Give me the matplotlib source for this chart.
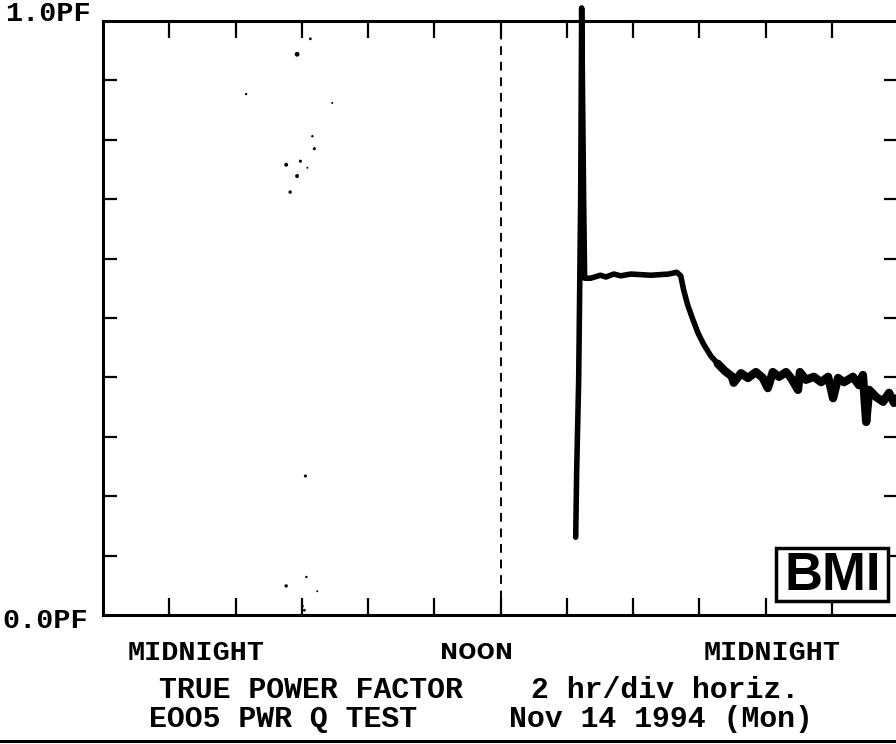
import matplotlib
matplotlib.use("Agg")
import matplotlib.pyplot as plt
from matplotlib.patches import Rectangle

plt.rcParams['font.family'] = ['Liberation Mono', 'DejaVu Sans Mono']
plt.rcParams['font.weight'] = 'bold'

# time of day (hours from midnight) and true power factor of the trace
hours = [14.27, 14.30, 14.36, 14.39, 14.42, 14.45, 14.51, 14.54,
         14.72, 15.02, 15.18, 15.42, 15.63, 15.93, 16.54, 17.08, 17.32,
         17.44, 17.53, 17.65, 17.81, 17.96, 18.14, 18.35, 18.56, 18.77,
         18.98, 19.04,
         19.26, 19.47, 19.71, 19.92, 20.07, 20.22, 20.41, 20.62, 20.77,
         20.98, 21.04, 21.22, 21.46, 21.68, 21.89, 22.04, 22.19, 22.37,
         22.64, 22.82, 22.94, 23.04, 23.13, 23.34, 23.55, 23.73, 23.88,
         23.97]
pf = [0.131, 0.244, 0.396, 0.547, 0.699, 1.022, 0.699, 0.567,
      0.567, 0.572, 0.569, 0.574, 0.571, 0.574, 0.572, 0.574, 0.577,
      0.571, 0.547, 0.522, 0.497, 0.475, 0.455, 0.436, 0.423, 0.411,
      0.402, 0.391,
      0.407, 0.399, 0.409, 0.399, 0.382, 0.409, 0.401, 0.409, 0.399,
      0.379, 0.409, 0.396, 0.401, 0.392, 0.401, 0.365, 0.399, 0.392,
      0.401, 0.387, 0.404, 0.325, 0.379, 0.367, 0.359, 0.374, 0.357,
      0.365]
noisy_from = 24  # index where the evening trace turns ragged

# isolated readings in the morning
dot_hours = [6.26, 5.86, 4.32, 6.92, 6.32, 6.38, 5.96, 5.53, 6.17, 5.86,
             5.65, 6.11, 6.14, 5.53, 6.47, 6.02, 6.08]
dot_pf = [0.970, 0.944, 0.877, 0.862, 0.806, 0.785, 0.764, 0.758, 0.753,
          0.739, 0.712, 0.234, 0.064, 0.049, 0.040, 0.015, 0.008]
dot_size = [4, 12, 3, 2, 3, 5, 5, 8, 2, 8, 6, 5, 3, 6, 2, 4, 4]

fig = plt.figure(figsize=(8.96, 7.44), dpi=100)
W, H = 896.0, 744.0
ax = fig.add_axes([103 / W, 129 / H, 795 / W, 594 / H])

ax.plot(hours, pf, color='black', lw=4.0, solid_joinstyle='round',
        solid_capstyle='round', clip_on=False, zorder=3)
ax.plot(hours[noisy_from:], pf[noisy_from:], color='black', lw=6.0,
        solid_joinstyle='round', solid_capstyle='round', zorder=3)
ax.scatter(dot_hours, dot_pf, s=dot_size, color='black', lw=0, zorder=3)
ax.axvline(12, color='black', lw=1.4, ls=(0, (4.5, 3.5)))

ax.set_xlim(0, 24)
ax.set_ylim(0, 1)
ax.set_xticks(range(2, 24, 2))
ax.set_yticks([0.1, 0.2, 0.3, 0.4, 0.5, 0.6, 0.7, 0.8, 0.9])
ax.tick_params(axis='x', direction='in', length=12, width=1.6,
               top=True, bottom=True, labelbottom=False)
ax.tick_params(axis='y', direction='in', length=10, width=1.6,
               left=True, right=True, labelleft=False)
for s in ax.spines.values():
    s.set_linewidth(2.2)

# axis captions and footer
fs = 20.5
fs2 = 21.5
fig.text(5 / W, 1 - 14 / H, '1.0PF', ha='left', va='center', fontsize=fs)
fig.text(2 / W, 1 - 621 / H, '0.0PF', ha='left', va='center', fontsize=fs)
fig.text(196 / W, 1 - 653 / H, 'MIDNIGHT', ha='center', va='center', fontsize=fs)
fig.text(476 / W, 1 - 653 / H, 'NOON', ha='center', va='center', fontsize=15.5,
         family='DejaVu Sans', weight='bold')
fig.text(772 / W, 1 - 653 / H, 'MIDNIGHT', ha='center', va='center', fontsize=fs)
fig.text(311 / W, 1 - 690 / H, 'TRUE POWER FACTOR', ha='center', va='center', fontsize=fs2)
fig.text(665 / W, 1 - 690 / H, '2 hr/div horiz.', ha='center', va='center', fontsize=fs2)
fig.text(283 / W, 1 - 719 / H, 'EOO5 PWR Q TEST', ha='center', va='center', fontsize=fs2)
fig.text(661 / W, 1 - 719 / H, 'Nov 14 1994 (Mon)', ha='center', va='center', fontsize=fs2)
fig.add_artist(plt.Line2D([0, 1], [1 - 741 / H, 1 - 741 / H], color='black', lw=2.2))

# logo box
fig.add_artist(Rectangle((776 / W, 1 - 601 / H), 112 / W, 53 / H, facecolor='white',
                         edgecolor='black', lw=2.5, zorder=5))
fig.text(833 / W, 1 - 576 / H, 'BMI', ha='center', va='center', fontsize=38,
         family='Liberation Sans', weight='bold', zorder=6)

fig.savefig('out.png', dpi=100)
